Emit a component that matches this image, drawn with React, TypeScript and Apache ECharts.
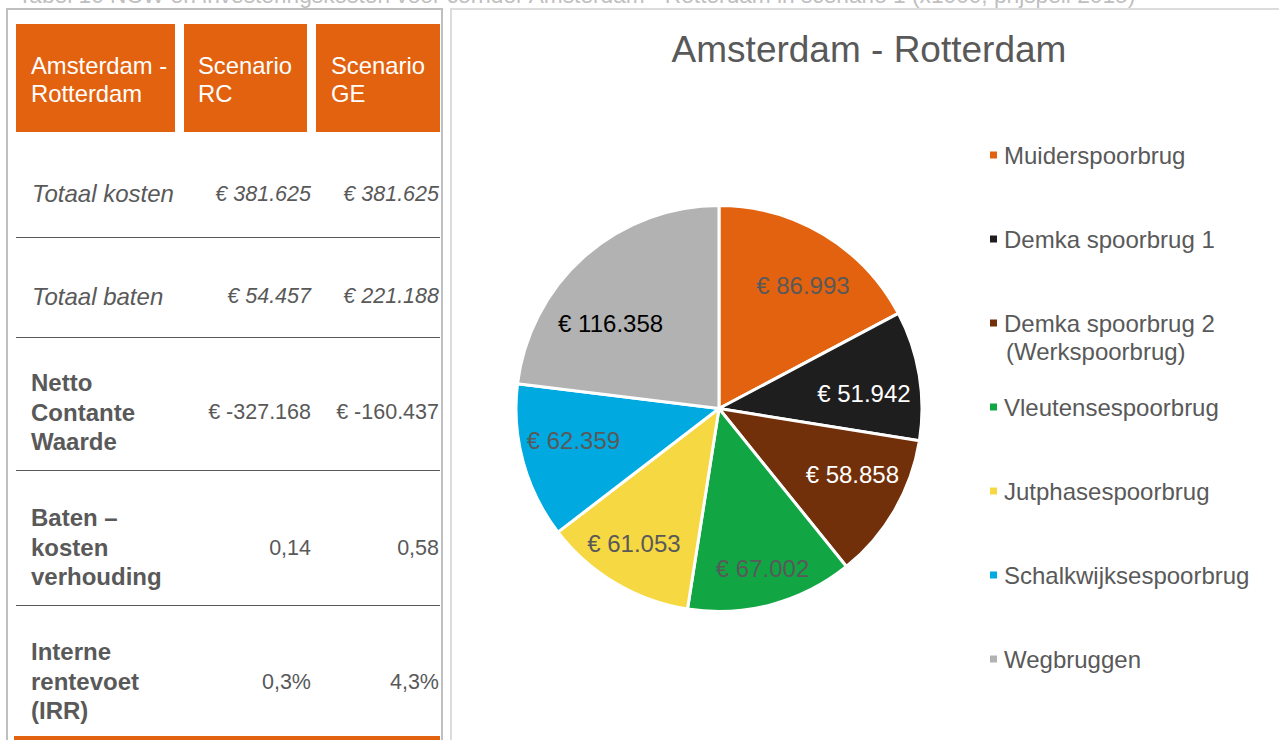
import React, { useEffect, useRef } from 'react';
import * as echarts from 'echarts';

// ---------- data ----------
const chartTitle = 'Amsterdam - Rotterdam';
const caption =
  'Tabel 10 NCW en investeringskosten voor corridor Amsterdam - Rotterdam in scenario 1 (x1000, prijspeil 2015)';

const sliceNames = [
  'Muiderspoorbrug',
  'Demka spoorbrug 1',
  'Demka spoorbrug 2\n(Werkspoorbrug)',
  'Vleutensespoorbrug',
  'Jutphasespoorbrug',
  'Schalkwijksespoorbrug',
  'Wegbruggen',
];
const sliceValues = [86993, 51942, 58858, 67002, 61053, 62359, 116358];

const tableHeaders = ['Amsterdam -\nRotterdam', 'Scenario\nRC', 'Scenario\nGE'];
const rowLabels = [
  'Totaal kosten',
  'Totaal baten',
  'Netto\nContante\nWaarde',
  'Baten –\nkosten\nverhouding',
  'Interne\nrentevoet\n(IRR)',
];
const scenarioRC = ['€ 381.625', '€ 54.457', '€ -327.168', '0,14', '0,3%'];
const scenarioGE = ['€ 381.625', '€ 221.188', '€ -160.437', '0,58', '4,3%'];

// ---------- styles ----------
const sliceColors = ['#E3620F', '#1E1E1E', '#72300A', '#11A544', '#F6D842', '#00A9E0', '#B2B2B2'];
const sliceLabelColors = ['#595959', '#FFFFFF', '#FFFFFF', '#595959', '#595959', '#595959', '#000000'];
// small per-label nudges (best-fit placement of the original)
const sliceLabelOffsets = [[5, 8], [-6, 10], [1, -11], [4, 12], [-7, 3], [2, -8], [-7, 30]];
const FONT = "'Liberation Sans', Arial, Helvetica, sans-serif";
const ORANGE = '#E3620F';
const TEXT = '#595959';

const headerCells = [
  { x: 16, w: 159, tx: 31 },
  { x: 184, w: 123, tx: 198 },
  { x: 316, w: 124, tx: 331 },
];
const rowCenters = [193, 296, 412, 547, 681];
const valueCenters = [194, 296, 412, 548, 682];
const rowLines = [237, 337, 470, 605];
const italicRows = [true, true, false, false, false];

function euro(v: number): string {
  const th = Math.floor(v / 1000);
  const rest = String(v % 1000).padStart(3, '0');
  return '€ ' + th + '.' + rest;
}

function buildGraphic(): any[] {
  const g: any[] = [];
  // caption, cut at the top edge
  g.push({
    type: 'text', x: 18, y: -5,
    style: { text: caption, fill: '#BFBFBF', fontSize: 22.7, fontFamily: FONT, align: 'left', verticalAlign: 'middle' },
  });
  // left panel border
  g.push({
    type: 'rect', shape: { x: 7, y: 9, width: 435, height: 800 },
    style: { fill: 'none', stroke: '#BFBFBF', lineWidth: 2 },
  });
  // right panel border
  g.push({
    type: 'rect', shape: { x: 451, y: 9, width: 900, height: 800 },
    style: { fill: 'none', stroke: '#DCDCDC', lineWidth: 2 },
  });
  // header cells
  headerCells.forEach((c, i) => {
    g.push({ type: 'rect', shape: { x: c.x, y: 24, width: c.w, height: 108 }, style: { fill: ORANGE } });
    g.push({
      type: 'text', x: c.tx, y: 79.5,
      style: {
        text: tableHeaders[i], fill: '#FFFFFF', fontSize: 23.8, fontFamily: FONT,
        lineHeight: 28.5, align: 'left', verticalAlign: 'middle',
      },
    });
  });
  // rows
  rowLabels.forEach((lab, i) => {
    const italic = italicRows[i];
    g.push({
      type: 'text', x: 31 + (italic ? 1 : 0), y: rowCenters[i],
      style: {
        text: lab, fill: TEXT, fontSize: 24, fontFamily: FONT,
        fontStyle: italic ? 'italic' : 'normal', fontWeight: italic ? 'normal' : 'bold',
        lineHeight: 29.3, align: 'left', verticalAlign: 'middle',
      },
    });
    g.push({
      type: 'text', x: 311, y: valueCenters[i],
      style: {
        text: scenarioRC[i], fill: TEXT, fontSize: 21.5, fontFamily: FONT,
        fontStyle: italic ? 'italic' : 'normal', align: 'right', verticalAlign: 'middle',
      },
    });
    g.push({
      type: 'text', x: 439, y: valueCenters[i],
      style: {
        text: scenarioGE[i], fill: TEXT, fontSize: 21.5, fontFamily: FONT,
        fontStyle: italic ? 'italic' : 'normal', align: 'right', verticalAlign: 'middle',
      },
    });
  });
  rowLines.forEach((y) => {
    g.push({
      type: 'line', shape: { x1: 16, y1: y + 0.5, x2: 440, y2: y + 0.5 },
      style: { stroke: '#595959', lineWidth: 1 },
    });
  });
  // orange bottom bar
  g.push({ type: 'rect', shape: { x: 14, y: 736, width: 426, height: 6 }, style: { fill: ORANGE } });
  // second line of the two-line legend entry
  g.push({
    type: 'text', x: 1006, y: 351,
    style: {
      text: sliceNames[2].split('\n')[1], fill: TEXT, fontSize: 24, fontFamily: FONT,
      align: 'left', verticalAlign: 'middle',
    },
  });
  return g;
}

export default function App() {
  const ref = useRef<HTMLDivElement>(null);
  useEffect(() => {
    if (!ref.current) return;
    const chart = echarts.init(ref.current, undefined, { renderer: 'svg' });
    const pieData = sliceNames.map((n, i) => ({ name: n, value: sliceValues[i], itemStyle: { color: sliceColors[i] } }));
    const labelData = sliceNames.map((n, i) => ({
      name: n,
      value: sliceValues[i],
      label: { color: sliceLabelColors[i], offset: sliceLabelOffsets[i] },
    }));
    chart.setOption({
      animation: false,
      backgroundColor: '#FFFFFF',
      title: {
        text: chartTitle,
        left: 869,
        top: 31,
        padding: 0,
        textAlign: 'center',
        textStyle: { fontSize: 37, fontWeight: 'normal', color: TEXT, fontFamily: FONT },
      },
      legend: {
        orient: 'vertical',
        left: 990,
        top: 141,
        padding: 0,
        itemWidth: 11,
        itemHeight: 7,
        itemGap: 56,
        icon: 'path://M0,0H7V7H0Z',
        itemStyle: { borderWidth: 0 },
        data: sliceNames,
        formatter: (name: string) => name.split('\n')[0],
        textStyle: { fontSize: 24, lineHeight: 28, color: TEXT, fontFamily: FONT },
        selectedMode: false,
      },
      series: [
        {
          type: 'pie',
          center: [719, 408.5],
          radius: [0, 203],
          startAngle: 90,
          clockwise: true,
          label: { show: false },
          labelLine: { show: false },
          itemStyle: { borderColor: '#FFFFFF', borderWidth: 3 },
          emphasis: { disabled: true },
          data: pieData,
        },
        {
          type: 'pie',
          center: [719, 408.5],
          radius: [0, 300],
          startAngle: 90,
          clockwise: true,
          silent: true,
          legendHoverLink: false,
          itemStyle: { color: 'rgba(0,0,0,0)', borderWidth: 0 },
          label: {
            show: true,
            position: 'inside',
            fontSize: 24,
            fontFamily: FONT,
            formatter: (p: any) => euro(p.value),
          },
          labelLine: { show: false },
          emphasis: { disabled: true },
          data: labelData,
        },
      ],
      graphic: buildGraphic(),
    });
    return () => chart.dispose();
  }, []);
  return (
    <div
      ref={ref}
      style={{ position: 'absolute', left: 0, top: 0, width: 1279, height: 740, background: '#FFFFFF' }}
    />
  );
}
